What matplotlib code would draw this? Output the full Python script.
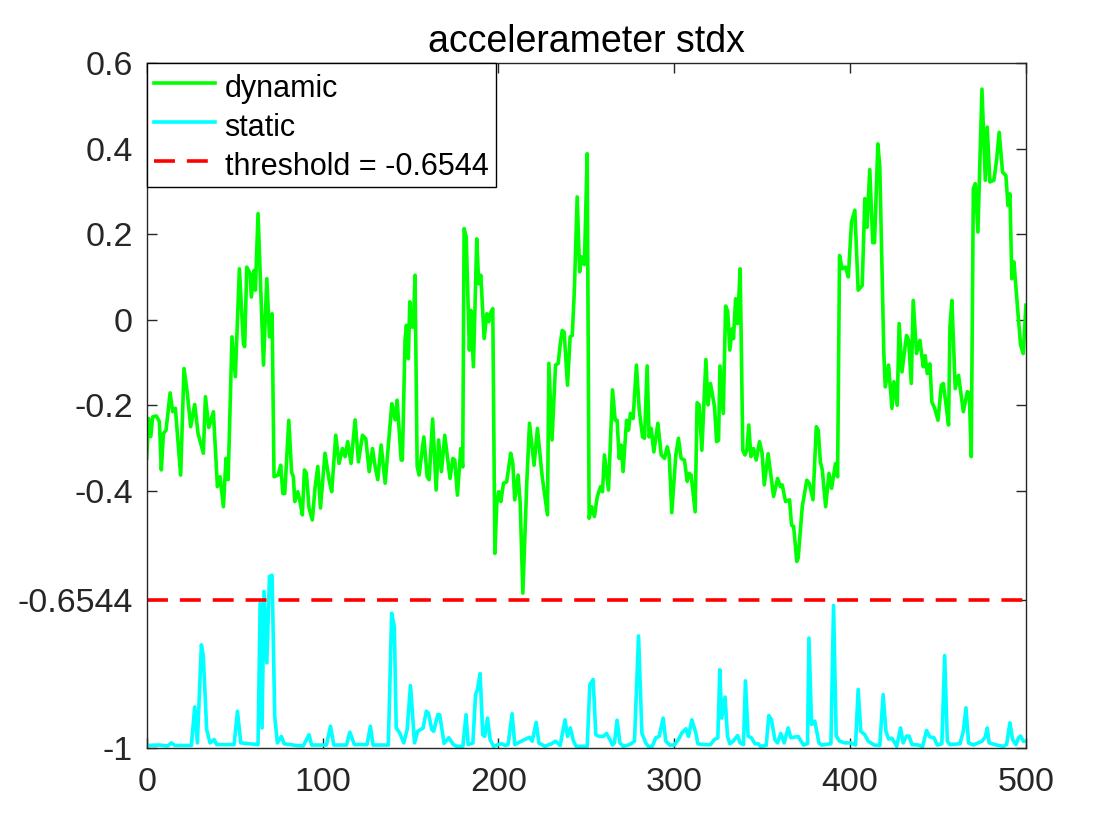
"""Accelerometer stdx: dynamic vs static windows with a threshold line."""

import numpy as np
import matplotlib
matplotlib.use("Agg")
import matplotlib.pyplot as plt

plt.rcParams["font.family"] = ["Liberation Sans", "DejaVu Sans"]
plt.rcParams["axes.unicode_minus"] = False

title = "accelerameter stdx"
threshold = -0.6544

# vertices (sample index, value)
dynamic = [
    (0, -0.324), (1.1, -0.231), (2.3, -0.273), (3.4, -0.227), (5.5, -0.225), (7.2, -0.238),
    (8.3, -0.351), (9.5, -0.266), (11, -0.258), (13.3, -0.171), (14.8, -0.215), (16.3, -0.207),
    (19.3, -0.363), (21.2, -0.114), (23.1, -0.172), (25, -0.250), (27.3, -0.198), (29.2, -0.266),
    (32.2, -0.312), (33.4, -0.180), (35.3, -0.252), (37.9, -0.215), (40.2, -0.390), (41.7, -0.367),
    (43.6, -0.437), (45.1, -0.324), (46.3, -0.374), (48.5, -0.040), (50.4, -0.133), (52.7, 0.119),
    (55, -0.056), (55.7, -0.063), (56.9, 0.123), (58.8, 0.108), (59.5, 0.053), (61.1, 0.115),
    (61.8, 0.069), (63.3, 0.248), (64.8, 0.080), (66.4, -0.106), (68.3, 0.096), (69.8, -0.040),
    (71.3, 0.014), (72.4, -0.367), (74.7, -0.363), (76.2, -0.340), (77.4, -0.406), (78.5, -0.406),
    (80.8, -0.235), (82.4, -0.357), (83.4, -0.367), (84.2, -0.425), (85.9, -0.402), (87, -0.421),
    (88.5, -0.456), (89.7, -0.351), (90.8, -0.359), (92.3, -0.440), (94.2, -0.468), (95.8, -0.390),
    (97.3, -0.343), (98.8, -0.440), (101.4, -0.312), (103.7, -0.374), (105.2, -0.402), (107.5, -0.270),
    (109.4, -0.336), (111.3, -0.301), (112.8, -0.320), (114.3, -0.285), (116.2, -0.336), (118.5, -0.234),
    (120.4, -0.332), (122.7, -0.270), (124.6, -0.278), (126.5, -0.355), (128.4, -0.301), (129.9, -0.343),
    (131.4, -0.374), (133.3, -0.293), (135.6, -0.382), (139.4, -0.196), (141.3, -0.234), (142.4, -0.188),
    (144.7, -0.328), (145.4, -0.328), (146.9, -0.048), (147.7, -0.013), (148.8, -0.091), (149.6, 0.042),
    (150.7, -0.017), (151.6, -0.017), (152.6, 0.104), (153.8, -0.343), (154.9, -0.363), (157.6, -0.274),
    (159.5, -0.367), (160.6, -0.374), (162.6, -0.232), (164.6, -0.398), (166, -0.281), (167.6, -0.355),
    (169.5, -0.270), (171, -0.320), (172.5, -0.371), (174.1, -0.324), (175.2, -0.328), (176.7, -0.410),
    (178.6, -0.301), (179.7, -0.344), (180.5, 0.213), (181.7, 0.193), (183.5, -0.071), (184.3, 0.022),
    (185.8, -0.110), (187.7, 0.189), (188.8, 0.084), (190, 0.104), (191.9, -0.044), (193.4, 0.014),
    (194.5, -0.005), (195.3, 0.014), (196.8, 0.026), (198, -0.546), (199.1, -0.429), (200.2, -0.402),
    (201.4, -0.425), (202.9, -0.382), (204.7, -0.379), (207, -0.312), (208.2, -0.336), (209.3, -0.421),
    (211.2, -0.363), (212.4, -0.429), (213.9, -0.639), (216.2, -0.375), (217.7, -0.242), (220.3, -0.340),
    (222.2, -0.254), (224.9, -0.367), (227.9, -0.456), (228.7, -0.102), (230.5, -0.281), (232.5, -0.106),
    (234, -0.102), (235.1, -0.059), (236.3, -0.025), (237.4, -0.029), (239.3, -0.153), (240.8, -0.040),
    (242, -0.037), (243.2, 0.069), (244.8, 0.287), (246.2, 0.112), (247.3, 0.147), (248.9, 0.129),
    (250.5, 0.388), (251.6, -0.464), (253.1, -0.437), (254.6, -0.460), (256.2, -0.414), (258.1, -0.390),
    (259.2, -0.402), (260.3, -0.316), (262.6, -0.398), (264.9, -0.164), (266.4, -0.235), (267.5, -0.235),
    (268.7, -0.324), (269.8, -0.293), (270.9, -0.355), (272.9, -0.235), (274, -0.258), (275.1, -0.219),
    (276.6, -0.231), (278.5, -0.106), (280.1, -0.211), (282, -0.274), (283.1, -0.277), (284.6, -0.108),
    (285.7, -0.274), (286.9, -0.254), (288.4, -0.309), (290.7, -0.242), (292.6, -0.316), (294.5, -0.324),
    (296, -0.297), (297.1, -0.316), (298.6, -0.451), (300.9, -0.316), (302.4, -0.277), (303.9, -0.324),
    (305.8, -0.328), (307.4, -0.378), (308.5, -0.359), (309.6, -0.363), (311.9, -0.449), (313, -0.194),
    (314.2, -0.199), (315.7, -0.305), (318, -0.093), (319.2, -0.199), (320.6, -0.149), (322.9, -0.203),
    (324.1, -0.285), (325.2, -0.282), (326, -0.108), (327.9, -0.219), (329.2, 0.032), (330.4, 0.020),
    (331.6, -0.071), (333, -0.021), (333.7, -0.044), (334.9, 0.049), (336, -0.009), (337.5, 0.119),
    (339, -0.305), (340.2, -0.316), (341.3, -0.305), (342.4, -0.246), (343.6, -0.320), (345.1, -0.301),
    (346.6, -0.328), (348.5, -0.285), (350, -0.313), (351.2, -0.386), (353.4, -0.313), (356.5, -0.413),
    (358.8, -0.371), (360.3, -0.390), (361.4, -0.386), (363.3, -0.425), (365.6, -0.421), (366.7, -0.480),
    (367.9, -0.483), (369.7, -0.565), (370.5, -0.557), (372.8, -0.437), (375.4, -0.375), (376.9, -0.383),
    (378.9, -0.421), (380.8, -0.250), (381.9, -0.258), (383.1, -0.332), (384.2, -0.351), (386.1, -0.437),
    (388, -0.359), (389.5, -0.394), (391.7, -0.336), (392.9, -0.367), (394, 0.150), (395.5, 0.119),
    (397.4, 0.123), (399, 0.100), (400.8, 0.228), (402.7, 0.256), (404.6, 0.069), (406.9, 0.080),
    (408.4, 0.283), (409.6, 0.216), (411.2, 0.351), (412.9, 0.180), (413.9, 0.180), (415.8, 0.411),
    (416.9, 0.357), (419.2, -0.079), (420, -0.157), (421.9, -0.106), (423.8, -0.207), (424.9, -0.145),
    (426.8, -0.200), (427.9, -0.009), (429.5, -0.122), (432.1, -0.037), (433.3, -0.048), (434.8, -0.149),
    (435.9, 0.045), (437.8, -0.079), (439.7, -0.048), (441.6, -0.110), (442.7, -0.084), (443.9, -0.126),
    (445.4, -0.103), (446.5, -0.192), (448.1, -0.207), (450, -0.235), (451.9, -0.153), (453, -0.149),
    (454.5, -0.196), (456, -0.246), (456.8, -0.017), (457.9, 0.045), (459.8, -0.161), (461.7, -0.130),
    (464.4, -0.215), (466.7, -0.168), (467.8, -0.172), (468.9, -0.320), (470.1, 0.306), (471.2, 0.318),
    (472.7, 0.205), (475, 0.539), (476.9, 0.326), (478, 0.450), (479.5, 0.322), (481.8, 0.326),
    (483.3, 0.372), (484.8, 0.438), (486.7, 0.345), (488.6, 0.337), (489.8, 0.267), (490.9, 0.294),
    (492, 0.096), (493.2, 0.135), (495.5, 0.014), (497, -0.060), (498.5, -0.079), (500, 0.034),
]

static = [
    (0, -0.995), (7, -0.994), (12, -0.996), (14, -0.989), (16, -0.995), (25.4, -0.995), (27.3, -0.905),
    (28.8, -0.989), (31.1, -0.760), (32.2, -0.787), (34.1, -0.958), (36, -0.989), (38.3, -0.981),
    (39.8, -0.993), (49.7, -0.993), (51.6, -0.915), (53.5, -0.989), (63.3, -0.993), (64.5, -0.662),
    (65.6, -0.954), (66.7, -0.635), (68.3, -0.802), (69.8, -0.600), (71.3, -0.597), (72.8, -0.927),
    (74.3, -0.989), (76.6, -0.974), (78.1, -0.991), (85, -0.995), (89, -0.996), (92.3, -0.970),
    (93.8, -0.994), (102.2, -0.994), (104.5, -0.950), (106.4, -0.994), (113.6, -0.994), (115.5, -0.964),
    (118.1, -0.993), (125.3, -0.993), (127.2, -0.950), (128.7, -0.994), (137.4, -0.994), (139.3, -0.686),
    (140.8, -0.717), (141.9, -0.954), (143.9, -0.966), (146.2, -0.989), (148.1, -0.958), (150, -0.855),
    (152.3, -0.989), (154.1, -0.962), (157.2, -0.954), (159, -0.915), (160.2, -0.919), (162.1, -0.958),
    (163.2, -0.962), (165.5, -0.923), (166.6, -0.923), (169.1, -0.990), (171.8, -0.977), (174.4, -0.993),
    (176.3, -0.997), (179.8, -0.997), (181.6, -0.923), (182.8, -0.993), (185.5, -0.989), (187, -0.876),
    (188.1, -0.864), (189.6, -0.827), (191.1, -0.970), (192.2, -0.974), (193.8, -0.931), (195.3, -0.981),
    (197.2, -0.997), (199.9, -0.993), (201.7, -0.991), (204, -0.995), (205.5, -0.993), (207.8, -0.921),
    (209.3, -0.993), (211.2, -0.989), (213.1, -0.985), (215, -0.981), (217.7, -0.976), (219.2, -0.985),
    (221.5, -0.941), (223, -0.989), (226.4, -0.997), (230.2, -0.991), (232.5, -0.985), (235.1, -0.995),
    (237.9, -0.935), (239.3, -0.974), (240.9, -0.954), (242.7, -0.985), (244.2, -0.997), (250.5, -0.997),
    (252, -0.853), (253.9, -0.841), (255.4, -0.970), (257.5, -0.974), (259.6, -0.974), (261.5, -0.967),
    (263.4, -0.981), (264.9, -0.994), (266, -0.989), (267.5, -0.936), (269.1, -0.989), (271, -0.997),
    (274.7, -0.993), (277.4, -0.985), (279.7, -0.739), (281.6, -0.966), (283.8, -0.989), (285.4, -0.998),
    (287.5, -0.997), (289.5, -0.977), (291.4, -0.974), (293.7, -0.931), (295.2, -0.985), (297.5, -0.994),
    (300.1, -0.994), (302.4, -0.981), (304.3, -0.966), (306.6, -0.956), (308.1, -0.974), (310, -0.935),
    (312.3, -0.966), (313.4, -0.991), (316.9, -0.993), (320.6, -0.993), (322.9, -0.981), (324.8, -0.977),
    (325.9, -0.818), (327, -0.931), (328.9, -0.882), (330.3, -0.974), (331.6, -0.991), (333.5, -0.985),
    (336, -0.972), (337.5, -0.989), (339.4, -0.993), (340.5, -0.844), (342, -0.973), (343.8, -0.977),
    (345.9, -0.991), (347.8, -0.991), (348.9, -0.997), (352.3, -0.995), (353.8, -0.925), (355.3, -0.935),
    (357.2, -0.981), (358.7, -0.989), (360.6, -0.967), (362.5, -0.989), (364.8, -0.954), (366.3, -0.977),
    (370.5, -0.974), (373.5, -0.994), (375.8, -0.991), (376.6, -0.744), (378.1, -0.946), (379.9, -0.938),
    (382.3, -0.989), (383.8, -0.994), (389.1, -0.991), (390.6, -0.668), (392.1, -0.973), (394, -0.985),
    (397, -0.989), (400.4, -0.989), (403.1, -0.994), (404.6, -0.864), (406.1, -0.962), (408.4, -0.970),
    (410.3, -0.985), (413.7, -0.994), (416.9, -0.995), (418.8, -0.876), (420.4, -0.962), (421.9, -0.980),
    (423.8, -0.978), (426.5, -0.997), (428.7, -0.954), (430.2, -0.989), (432.1, -0.973), (433.6, -0.973),
    (435.2, -0.993), (438.9, -0.994), (441.2, -0.998), (443.5, -0.960), (445.4, -0.975), (447.7, -0.977),
    (449.6, -0.994), (452.2, -0.991), (453.8, -0.785), (455.3, -0.985), (456.8, -0.993), (462.5, -0.991),
    (464.4, -0.962), (465.9, -0.907), (467.4, -0.989), (470.1, -0.994), (475, -0.985), (476.9, -0.975),
    (478, -0.954), (479.1, -0.989), (483.3, -0.994), (487.1, -0.997), (489, -0.993), (490.9, -0.942),
    (492.4, -0.981), (494.3, -0.993), (495.8, -0.977), (496.9, -0.973), (498.5, -0.985), (500, -0.985),
]

y_ticks = [-1, threshold, -0.4, -0.2, 0, 0.2, 0.4, 0.6]
y_tick_labels = ["-1", "-0.6544", "-0.4", "-0.2", "0", "0.2", "0.4", "0.6"]
x_ticks = [0, 100, 200, 300, 400, 500]

dyn = np.array(dynamic)
sta = np.array(static)

fig = plt.figure(figsize=(11.2, 8.4), dpi=100)
ax = fig.add_axes([0.131, 0.11, 0.785, 0.815])

lw = 2.6
ax.plot(dyn[:, 0], dyn[:, 1], color="#00ff00", linewidth=lw, label="dynamic")
ax.plot(sta[:, 0], sta[:, 1], color="#00ffff", linewidth=lw, label="static")
ax.axhline(threshold, color="#ff0000", linewidth=lw, linestyle=(0, (5.8, 3.3)),
           label="threshold = -0.6544")

ax.set_xlim(0, 500)
ax.set_ylim(-1, 0.6)
ax.set_xticks(x_ticks)
ax.set_yticks(y_ticks)
ax.set_yticklabels(y_tick_labels)

dark = "#262626"
for s in ax.spines.values():
    s.set_color(dark)
    s.set_linewidth(1.0)
ax.tick_params(direction="in", length=7, width=1.0, colors=dark, labelsize=24.5,
               top=True, right=True)
ax.tick_params(axis="y", pad=10)
ax.tick_params(axis="x", pad=14)

ax.set_title(title, fontsize=27, pad=8, color="black")

leg = ax.legend(loc="upper left", bbox_to_anchor=(0, 1), borderaxespad=0, fontsize=22,
                fancybox=False, framealpha=1, edgecolor="black", handlelength=2.0,
                handletextpad=0.3, labelspacing=0.3, borderpad=0.25)
leg.get_frame().set_linewidth(1.0)
for t in leg.get_texts():
    t.set_y(-3)

fig.savefig("out.png", dpi=100)
